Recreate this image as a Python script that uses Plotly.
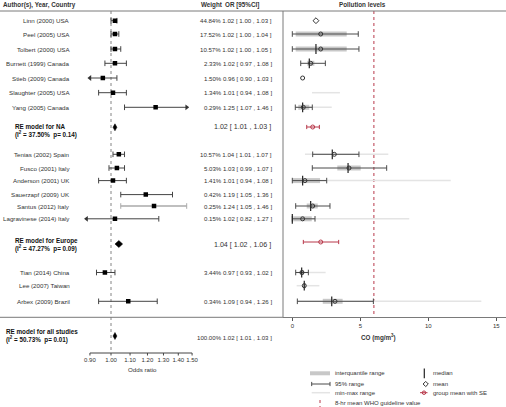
import math
import plotly.graph_objects as go

W, H = 506, 407
FONT = "Liberation Sans, Arial, sans-serif"
TXT = "#333333"
RED = "#b8384a"

# ---------------- data ----------------
studies = ["Linn (2000) USA", "Peel (2005) USA", "Tolbert (2000) USA", "Burnett (1999) Canada",
           "Stieb (2009) Canada", "Slaughter (2005) USA", "Yang (2005) Canada",
           "Tenias (2002) Spain", "Fusco (2001) Italy", "Anderson (2001) UK", "Sauerzapf (2009) UK",
           "Santus (2012) Italy", "Lagravinese (2014) Italy",
           "Tian (2014) China", "Lee (2007) Taiwan", "Arbex (2009) Brazil"]
weights = [44.84, 17.52, 10.57, 2.33, 1.50, 1.34, 0.29, 10.57, 5.03, 1.41, 0.42, 0.25, 0.15, 3.44, None, 0.34]
or_est = [1.02, 1.02, 1.02, 1.02, 0.96, 1.01, 1.25, 1.04, 1.03, 1.01, 1.19, 1.24, 1.02, 0.97, None, 1.09]
or_lo = [1.00, 1.00, 1.00, 0.97, 0.90, 0.94, 1.07, 1.01, 0.99, 0.94, 1.05, 1.05, 0.82, 0.93, None, 0.94]
or_hi = [1.03, 1.04, 1.05, 1.08, 1.03, 1.08, 1.46, 1.07, 1.07, 1.08, 1.36, 1.46, 1.27, 1.02, None, 1.26]

re_labels = ["RE model for NA", "RE model for Europe", "RE model for all studies"]
re_i2 = [37.50, 47.27, 50.73]
re_p = [0.14, 0.09, 0.01]
re_est = [1.02, 1.04, 1.02]
re_lo = [1.01, 1.02, 1.01]
re_hi = [1.03, 1.06, 1.03]
re_weight = [None, None, 100.00]

or_ticks = [0.90, 1.00, 1.10, 1.20, 1.30, 1.40, 1.50]
co_ticks = [0, 5, 10, 15]
who_guideline = 6.0

# CO levels (mg/m3) per study
co_mean = [1.74, 2.09, 2.09, 1.35, 0.76, None, 0.81, 3.09, 4.17, 0.93, None, 1.50, 0.76, 0.71, 0.88, 3.14]
co_median = [None, None, 1.74, 1.25, None, None, 0.76, 2.94, 4.10, 0.76, None, 1.35, 0.00, 0.69, 0.88, 2.90]
co_q1 = [None, 0.25, 0.25, 1.10, None, None, 0.44, None, 3.31, 0.00, None, 1.06, 0.07, 0.56, 0.80, 2.24]
co_q3 = [None, 4.00, 4.00, 1.62, None, None, 1.25, None, 5.03, 2.04, None, 1.87, 1.43, 0.86, 1.00, 3.70]
co_p025 = [None, 0.00, 0.00, 0.62, None, None, 0.22, 1.50, 1.47, 0.00, None, 0.25, 0.00, 0.25, None, 0.37]
co_p975 = [None, 4.85, 4.90, 2.43, None, None, 1.47, 4.90, 6.94, 2.53, None, 2.77, 1.67, 1.18, None, 5.96]
co_min = [None, None, None, None, None, 1.45, 0.22, 0.93, None, 0.00, None, None, 0.00, 0.27, 0.32, 0.37]
co_max = [None, None, None, None, None, 3.50, 2.90, 7.06, None, 11.65, None, None, 8.60, 2.45, 1.99, 13.90]

group_mean = [1.50, 2.09]
group_lo = [1.06, 0.81]
group_hi = [1.99, 3.41]

# ---------------- layout (row slots, px from top) ----------------
study_row = [20.7, 34.0, 49.0, 63.3, 78.0, 92.7, 107.3, 154.3, 168.0, 180.6, 194.6, 206.0, 218.8, 272.5, 285.7, 301.3]
re_row = [127.3, 244.0, 336.0]
re_label_rows = [(126.7, 134.7), (241.0, 248.5), (331.7, 339.3)]
re_text_row = [126.5, 245.0, 337.3]
group_row = [127.0, 242.0]
arrow_left = {"Stieb (2009) Canada", "Lagravinese (2014) Italy"}
arrow_right = {"Yang (2005) Canada"}
gray_ci = {"Santus (2012) Italy"}
OR_CLIP_LO = 0.885

# forest axis mapping: OR=1 at px 111, 460.5 px per log10 unit
OR1_PX = 111.0
PPL = 200 * math.log(10)
fd0, fd1 = 0.04, 0.54
f_range = [(fd0 * W - OR1_PX) / PPL, (fd1 * W - OR1_PX) / PPL]
# CO axis mapping: 0 at px 292.3, 13.6 px per unit
CO0_PX, CO_PPU = 292.3, 13.6
cd0 = 283 / W
c_range = [(283 - CO0_PX) / CO_PPU, (W - CO0_PX) / CO_PPU]

fig = go.Figure()


def seg_trace(xs, ys, color, width, xaxis, dash=None):
    return go.Scatter(x=xs, y=ys, mode="lines", xaxis=xaxis, yaxis="y",
                      line=dict(color=color, width=width, dash=dash),
                      hoverinfo="skip", showlegend=False)


def mark_trace(xs, ys, symbol, size, color, xaxis, lw=1, fill=None):
    return go.Scatter(x=xs, y=ys, mode="markers", xaxis=xaxis, yaxis="y",
                      marker=dict(symbol=symbol, size=size, color=fill or color,
                                  line=dict(color=color, width=lw)),
                      hoverinfo="skip", showlegend=False)


# ---------------- frame lines (pixel axis x3) ----------------
fig.add_trace(seg_trace([0, W], [11, 11], "#7a7a7a", 1, "x3"))
fig.add_trace(seg_trace([0, 283], [317.3, 317.3], "#7a7a7a", 1, "x3"))
fig.add_trace(seg_trace([283, 283], [11, 317.3], "#7a7a7a", 1, "x3"))

# ---------------- forest plot ----------------
fig.add_trace(seg_trace([1, 1], [11, 353], "#666666", 0.8, "x", dash="dot"))

for i, s in enumerate(studies):
    if or_est[i] is None:
        continue
    y = study_row[i]
    lo = max(or_lo[i], OR_CLIP_LO)
    hi = or_hi[i]
    col = "#aaaaaa" if s in gray_ci else "#444444"
    lw = 1.6 if s in gray_ci else 1
    fig.add_trace(seg_trace([lo, hi], [y, y], col, lw, "x"))
    if s in arrow_left:
        fig.add_trace(mark_trace([lo], [y], "triangle-left", 5, "#333333", "x", lw=0, fill="#333333"))
    else:
        fig.add_trace(mark_trace([lo], [y], "line-ns", 4, col, "x"))
    if s in arrow_right:
        fig.add_trace(mark_trace([hi], [y], "triangle-right", 5, "#333333", "x", lw=0, fill="#333333"))
    else:
        fig.add_trace(mark_trace([hi], [y], "line-ns", 4, col, "x"))
    fig.add_trace(mark_trace([or_est[i]], [y], "square", 4.5, "#000000", "x", lw=0, fill="#000000"))

for k in range(3):
    y = re_row[k]
    h = 3.5
    fig.add_trace(go.Scatter(x=[re_lo[k], re_est[k], re_hi[k], re_est[k], re_lo[k]],
                             y=[y, y - h, y, y + h, y], mode="lines", fill="toself",
                             fillcolor="#000000", line=dict(color="#000000", width=0.5),
                             xaxis="x", yaxis="y", hoverinfo="skip", showlegend=False))

# forest x axis (drawn)
AX_Y = 353
fig.add_trace(seg_trace([or_ticks[0], or_ticks[-1]], [AX_Y, AX_Y], "#444444", 1, "x"))
tx, ty = [], []
for t in or_ticks:
    tx += [t, t, None]
    ty += [AX_Y, AX_Y + 2.5, None]
fig.add_trace(seg_trace(tx, ty, "#444444", 1, "x"))
fig.add_trace(go.Scatter(x=or_ticks, y=[360.7] * len(or_ticks), mode="text",
                         text=[f"{t:.2f}" for t in or_ticks], textposition="middle center",
                         textfont=dict(family=FONT, size=6, color=TXT),
                         xaxis="x", yaxis="y", hoverinfo="skip", showlegend=False))

# ---------------- pollution panel ----------------
fig.add_trace(seg_trace([who_guideline, who_guideline], [11, 317.3], RED, 1, "x2", dash="dot"))


def add_ranges(lo_list, hi_list, color, width, caps=False, capsize=4):
    xs, ys, cx, cy = [], [], [], []
    for i in range(len(studies)):
        if lo_list[i] is None or hi_list[i] is None:
            continue
        xs += [lo_list[i], hi_list[i], None]
        ys += [study_row[i], study_row[i], None]
        cx += [lo_list[i], hi_list[i]]
        cy += [study_row[i], study_row[i]]
    fig.add_trace(seg_trace(xs, ys, color, width, "x2"))
    if caps:
        fig.add_trace(mark_trace(cx, cy, "line-ns", capsize, color, "x2"))


add_ranges(co_min, co_max, "#e4e4e4", 1.5)
add_ranges(co_q1, co_q3, "#c8c8c8", 5)
add_ranges(co_p025, co_p975, "#4a4a4a", 1, caps=True)

mx = [co_median[i] for i in range(len(studies)) if co_median[i] is not None]
my = [study_row[i] for i in range(len(studies)) if co_median[i] is not None]
fig.add_trace(mark_trace(mx, my, "line-ns", 7, "#222222", "x2", lw=1.2))

for i in range(len(studies)):
    if co_mean[i] is None:
        continue
    sym = "diamond-open" if i == 0 else "circle-open"
    fig.add_trace(mark_trace([co_mean[i]], [study_row[i]], sym, 4.5 if i == 0 else 4, "#333333", "x2", lw=1))

for k in range(len(group_mean)):
    y = group_row[k]
    fig.add_trace(seg_trace([group_lo[k], group_hi[k]], [y, y], RED, 1, "x2"))
    fig.add_trace(mark_trace([group_lo[k], group_hi[k]], [y, y], "line-ns", 3, RED, "x2"))
    fig.add_trace(mark_trace([group_mean[k]], [y], "circle-open", 4, RED, "x2", lw=1))

# ---------------- legend (pixel axis x3) ----------------
fig.add_trace(seg_trace([310, 330], [373.3, 373.3], "#c8c8c8", 4, "x3"))
fig.add_trace(seg_trace([311.7, 330], [384, 384], "#4a4a4a", 1, "x3"))
fig.add_trace(mark_trace([311.7, 330], [384, 384], "line-ns", 3, "#4a4a4a", "x3"))
fig.add_trace(seg_trace([311.7, 330], [392.7, 392.7], "#e4e4e4", 1.5, "x3"))
fig.add_trace(seg_trace([320, 320], [400, 407], RED, 1, "x3", dash="dot"))
fig.add_trace(mark_trace([424.3], [373.3], "line-ns", 7, "#222222", "x3", lw=1.2))
fig.add_trace(mark_trace([425.7], [384], "diamond-open", 4, "#333333", "x3", lw=1))
fig.add_trace(seg_trace([420, 427.5], [392.7, 392.7], RED, 1, "x3"))
fig.add_trace(mark_trace([424], [392.7], "circle-open", 3.5, RED, "x3", lw=1))

# ---------------- annotations ----------------
ann = []


def A(x, y, text, size=6.3, anchor="left", bold=False, color=TXT):
    if bold:
        text = f"<b>{text}</b>"
    ann.append(dict(x=x, y=y, xref="x3", yref="y", text=text, showarrow=False,
                    xanchor=anchor, yanchor="middle", font=dict(family=FONT, size=size, color=color)))


A(0.5, 4.8, "Author(s), Year, Country", size=6.3, bold=True)
A(199, 4.8, "Weight", size=6.3, bold=True)
A(223, 4.8, "OR [95%CI]", size=6.3, bold=True)
A(362, 4.8, "Pollution levels", size=6.3, anchor="center", bold=True)

for i, s in enumerate(studies):
    A(72, study_row[i], s, size=6.2, anchor="right")
    if or_est[i] is not None:
        A(273.5, study_row[i],
          f"{weights[i]:.2f}% {or_est[i]:.2f} [ {or_lo[i]:.2f} , {or_hi[i]:.2f} ]",
          size=6.1, anchor="right")

for k in range(3):
    xl = 4 if k == 2 else 13.3
    r1, r2 = re_label_rows[k]
    A(xl, r1, re_labels[k], size=6.3, bold=True, color="#111111")
    A(xl, r2, f"(I<sup>2</sup> = {re_i2[k]:.2f}%  p= {re_p[k]:.2f})", size=6.3, bold=True, color="#111111")
    if re_weight[k] is None:
        A(273, re_text_row[k], f"{re_est[k]:.2f} [ {re_lo[k]:.2f} , {re_hi[k]:.2f} ]", size=7.1, anchor="right")
    else:
        A(273.5, re_text_row[k],
          f"{re_weight[k]:.2f}% {re_est[k]:.2f} [ {re_lo[k]:.2f} , {re_hi[k]:.2f} ]", size=6.1, anchor="right")

A(142, 369.5, "Odds ratio", size=6.2, anchor="center")
A(378, 337.5, "CO (mg/m<sup>3</sup>)", size=6.3, anchor="center", bold=True)

A(332.7, 373.3, "interquantile range", size=6)
A(332.7, 384, "95% range", size=6)
A(332.7, 392.7, "min-max range", size=6)
A(332.7, 403.3, "8-hr mean WHO guideline value", size=6)
A(430.5, 373.3, "median", size=6)
A(430.5, 384, "mean", size=6)
A(430.5, 392.7, "group mean with SE", size=6)

fig.update_layout(
    width=W, height=H, margin=dict(l=0, r=0, t=0, b=0),
    paper_bgcolor="white", plot_bgcolor="rgba(0,0,0,0)", showlegend=False,
    annotations=ann,
    xaxis=dict(type="log", domain=[fd0, fd1], range=f_range, visible=False, fixedrange=True),
    xaxis2=dict(domain=[cd0, 1.0], range=c_range, anchor="free", position=(H - 317.3) / H,
                showline=True, linecolor="#7a7a7a", linewidth=1, showgrid=False, zeroline=False,
                tickmode="array", tickvals=co_ticks, ticktext=[str(t) for t in co_ticks],
                ticks="outside", ticklen=2.5, tickcolor="#555555",
                tickfont=dict(family=FONT, size=6, color=TXT), fixedrange=True),
    xaxis3=dict(domain=[0, 1], range=[0, W], visible=False, fixedrange=True, anchor="free", position=0),
    yaxis=dict(domain=[0, 1], range=[H, 0], visible=False, fixedrange=True),
)

fig.write_html("out.html", config={"displayModeBar": False},
               post_script="document.body.style.margin='0';document.body.style.overflow='hidden';")
